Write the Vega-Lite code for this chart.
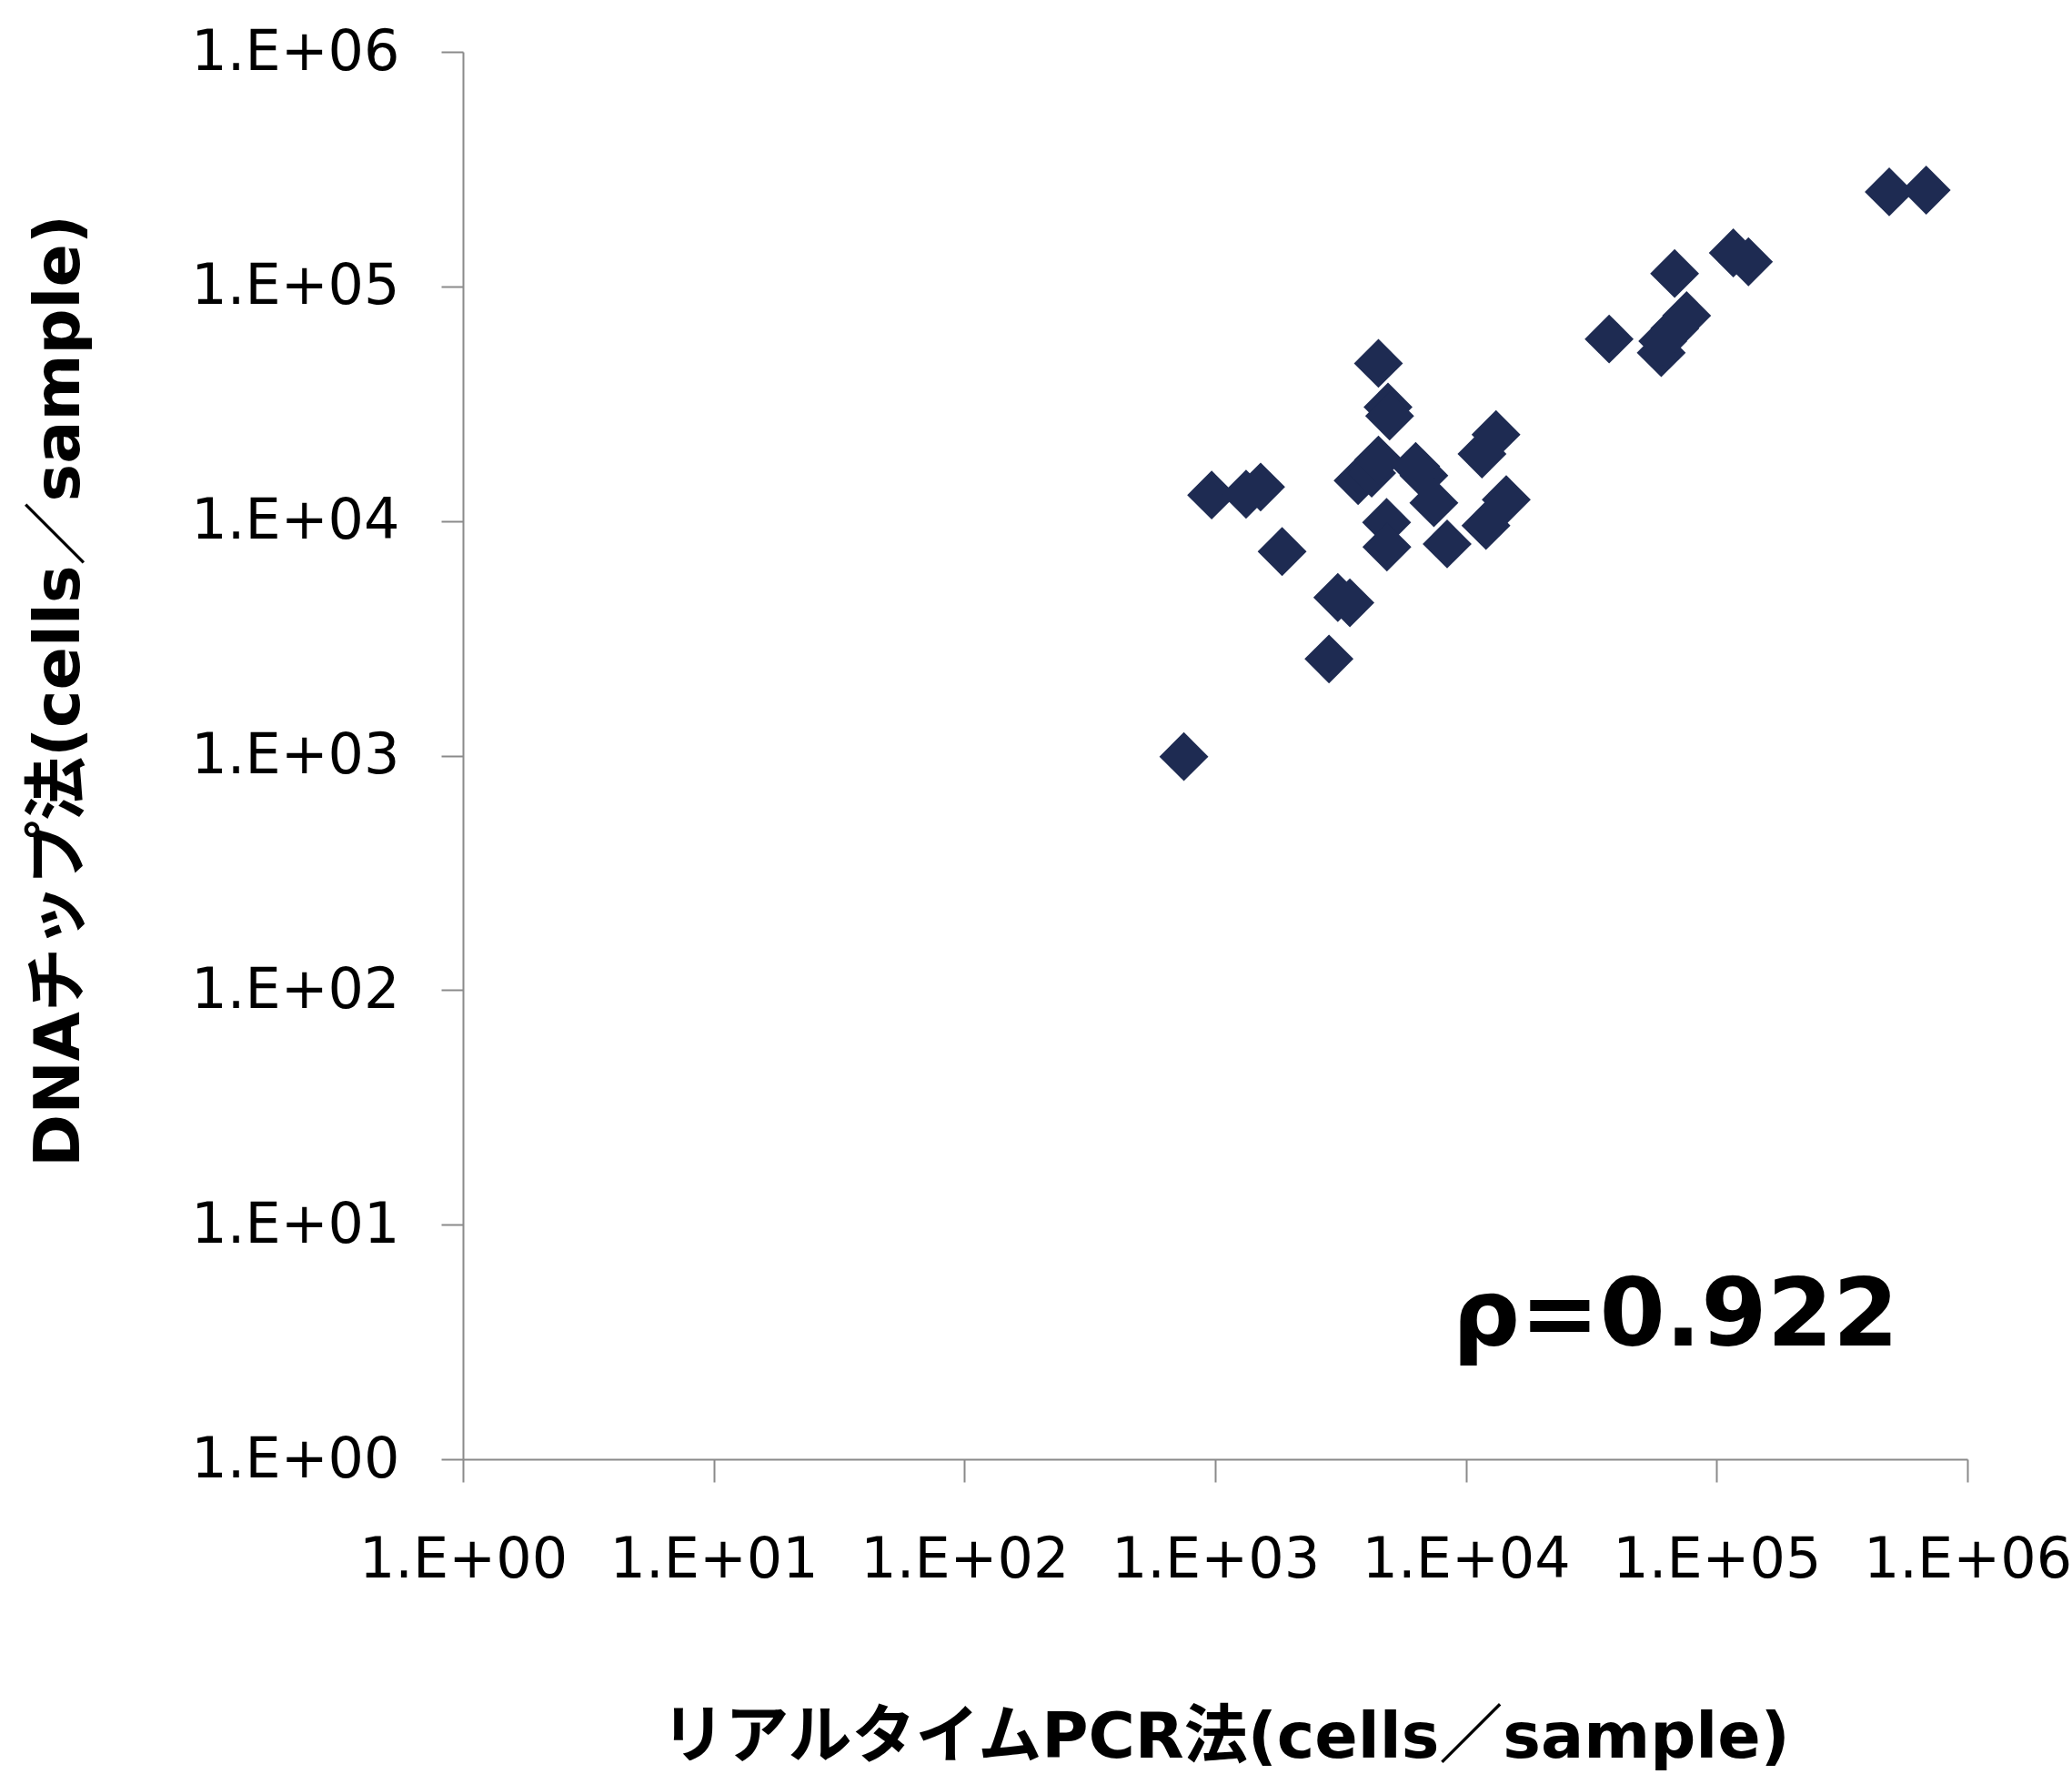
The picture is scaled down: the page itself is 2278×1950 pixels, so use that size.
{
  "$schema": "https://vega.github.io/schema/vega-lite/v6.json",
  "width": 1654,
  "height": 1547,
  "autosize": {"type": "none"},
  "padding": {"left": 509, "top": 57, "right": 115, "bottom": 346},
  "background": "white",
  "config": {
    "view": {"stroke": null},
    "axis": {
      "grid": false,
      "domainColor": "#8a8a8a",
      "domainWidth": 2,
      "tickColor": "#8a8a8a",
      "tickWidth": 2,
      "labelFont": "DejaVu Sans",
      "labelFontSize": 62,
      "labelColor": "#000000",
      "labelLimit": 0,
      "labelOverlap": false,
      "labelFlush": false,
      "labelBound": false,
      "titleFont": "DejaVu Sans, Noto Sans CJK JP",
      "titleFontSize": 70,
      "titleFontWeight": "bold",
      "titleColor": "#000000",
      "titleLimit": 0
    }
  },
  "layer": [
    {
      "data": {
        "values": [
          {"pcr": 750, "chip": 990},
          {"pcr": 968, "chip": 12900},
          {"pcr": 1328, "chip": 13000},
          {"pcr": 1518, "chip": 13960},
          {"pcr": 1849, "chip": 7410},
          {"pcr": 3084, "chip": 4720},
          {"pcr": 3445, "chip": 4480},
          {"pcr": 2844, "chip": 2580},
          {"pcr": 4478, "chip": 47000},
          {"pcr": 4890, "chip": 30600},
          {"pcr": 4963, "chip": 28000},
          {"pcr": 3715, "chip": 14860},
          {"pcr": 4209, "chip": 16000},
          {"pcr": 4478, "chip": 18200},
          {"pcr": 6305, "chip": 17100},
          {"pcr": 6795, "chip": 15630},
          {"pcr": 7451, "chip": 11960},
          {"pcr": 4827, "chip": 9860},
          {"pcr": 4840, "chip": 7740},
          {"pcr": 8414, "chip": 7980},
          {"pcr": 13180, "chip": 23360},
          {"pcr": 11590, "chip": 19310},
          {"pcr": 14480, "chip": 12330},
          {"pcr": 12020, "chip": 9565},
          {"pcr": 37250, "chip": 59680},
          {"pcr": 60120, "chip": 52200},
          {"pcr": 60970, "chip": 58460},
          {"pcr": 68100, "chip": 66240},
          {"pcr": 75900, "chip": 75030},
          {"pcr": 67970, "chip": 113500},
          {"pcr": 116500, "chip": 139000},
          {"pcr": 133900, "chip": 127400},
          {"pcr": 487700, "chip": 252900},
          {"pcr": 685000, "chip": 257400}
        ]
      },
      "mark": {"type": "point", "shape": "diamond", "filled": true, "size": 2900, "color": "#1E2B52", "opacity": 1},
      "encoding": {
        "x": {
          "field": "pcr",
          "type": "quantitative",
          "scale": {"type": "log", "domain": [1, 1000000], "nice": false},
          "axis": {
            "values": [1, 10, 100, 1000, 10000, 100000, 1000000],
            "labelExpr": "'1.E+0' + format(log(datum.value) / LN10, '.0f')",
            "tickSize": 25,
            "labelPadding": 55,
            "title": "リアルタイムPCR法(cells／sample)",
            "titleX": 838,
            "titleY": 327,
            "titleAlign": "center",
            "titleBaseline": "alphabetic"
          }
        },
        "y": {
          "field": "chip",
          "type": "quantitative",
          "scale": {"type": "log", "domain": [1, 1000000], "nice": false},
          "axis": {
            "values": [1, 10, 100, 1000, 10000, 100000, 1000000],
            "labelExpr": "'1.E+0' + format(log(datum.value) / LN10, '.0f')",
            "tickSize": 24,
            "labelPadding": 46,
            "labelBaseline": "middle",
            "title": "DNAチップ法(cells／sample)",
            "titleAngle": -90,
            "titleX": -423,
            "titleY": 702,
            "titleAlign": "center",
            "titleBaseline": "alphabetic"
          }
        }
      }
    },
    {
      "data": {"values": [{"pcr": 68550, "chip": 3.06, "label": "ρ=0.922"}]},
      "mark": {"type": "text", "font": "DejaVu Sans", "fontWeight": "bold", "fontSize": 104, "align": "center", "baseline": "alphabetic", "color": "#000000"},
      "encoding": {
        "x": {"field": "pcr", "type": "quantitative"},
        "y": {"field": "chip", "type": "quantitative"},
        "text": {"field": "label"}
      }
    }
  ]
}
